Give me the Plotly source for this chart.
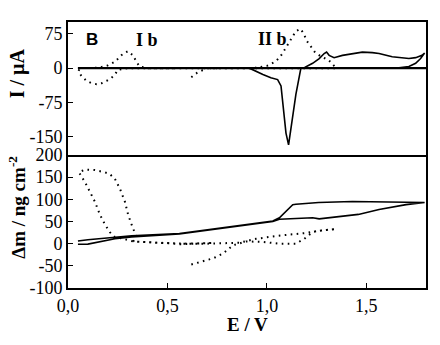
import plotly.graph_objects as go
from plotly.subplots import make_subplots

# ---------------- data ----------------
# Top panel: current (I / uA) vs potential (E / V)
solid_I_E = [0.05, 0.50, 1.00, 1.19, 1.23, 1.263, 1.288, 1.30, 1.313, 1.338, 1.38, 1.43, 1.48, 1.53, 1.564, 1.63, 1.714, 1.748, 1.78, 1.793,
             1.773, 1.748, 1.714, 1.664, 1.40, 1.20, 1.171, 1.146, 1.126, 1.109, 1.096, 1.083, 1.071, 1.054, 1.02, 0.98, 0.946, 0.912, 0.50, 0.05]
solid_I = [0, 0, 0, 1.5, 10.6, 21, 32, 35.4, 28, 23, 28, 32, 35, 34, 32, 25, 21, 23, 28, 33,
           21, 10.6, 3.5, 0.7, 0, 0, 0, -57, -120, -168, -142, -85, -39, -25, -21, -14, -7, 0, 0, 0]

dotA_I_E = [0.75, 0.50, 0.40, 0.30, 0.25, 0.236, 0.219, 0.194, 0.169, 0.144, 0.119, 0.094, 0.069, 0.052,
            0.06, 0.10, 0.15, 0.175, 0.20, 0.236, 0.26, 0.277, 0.302, 0.327, 0.344, 0.36, 0.40, 0.55]
dotA_I = [0, 0, 0, 0, -4, -14, -21, -28, -33, -35, -33, -28, -18, -7,
          0, 0, 1, 3, 6, 14, 24, 32, 37, 28, 14, 3.5, 0, 0]

dotB_I_E = [0.62, 0.65, 0.70, 0.80, 0.93, 1.00, 1.046, 1.075, 1.10, 1.125, 1.146, 1.168, 1.185, 1.20, 1.24, 1.27, 1.31, 1.34, 1.35,
            1.20, 1.00, 0.80, 0.65]
dotB_I = [-20, -10, 0, 0, 0, 5, 15, 30, 49, 68, 81, 86, 76, 60, 36, 26, 18, 4, 0,
          0, 0, 0, 0]

# Bottom panel: mass change (Delta m / ng cm^-2) vs potential
solid_m_E = [0.05, 0.10, 0.236, 0.32, 0.56, 0.72, 0.81, 1.03, 1.063, 1.23, 1.263, 1.46, 1.564, 1.70, 1.793,
             1.60, 1.43, 1.26, 1.18, 1.146, 1.13, 1.096, 1.063, 1.03, 0.81, 0.56, 0.32, 0.236, 0.10, 0.05]
solid_m = [-1.4, -1, 11, 15, 22, 31, 36, 50, 55, 58.5, 56, 66, 77, 88, 93,
           94, 95, 93, 91, 89, 88, 73, 58.5, 51, 38, 23, 18, 15, 9, 6]

dotA_m_E = [0.72, 0.57, 0.486, 0.40, 0.328, 0.344, 0.336, 0.319, 0.302, 0.286, 0.261, 0.236, 0.21, 0.185, 0.135, 0.085, 0.055,
            0.085, 0.11, 0.135, 0.16, 0.185, 0.21, 0.236, 0.277, 0.328, 0.45, 0.60, 0.72]
dotA_m = [1.5, -1.4, 1.5, 3, 5, 15, 26, 44, 66, 95, 124, 146, 157, 161, 166, 167, 161,
          139, 117, 95, 66, 44, 26, 15, 11, 5, 2, 0, 1.5]

dotB_m_E = [0.62, 0.73, 0.78, 0.83, 0.896, 0.98, 1.06, 1.146, 1.188, 1.23, 1.26, 1.30, 1.347,
            1.26, 1.196, 1.146, 1.06, 0.946, 0.86, 0.70, 0.56]
dotB_m = [-47, -33, -22, -3.5, 5, 4, 0, 0, 11, 26, 29, 31, 33,
          29, 24, 22, 18, 11, 2, 0, 0]

x_tickvals = [0.0, 0.5, 1.0, 1.5]
x_ticktext = ["0,0", "0,5", "1,0", "1,5"]
yI_tickvals = [75, 0, -75, -150]
yI_ticktext = ["75", "0", "-75", "-150"]
ym_tickvals = [200, 150, 100, 50, 0, -50, -100]
ym_ticktext = ["200", "150", "100", "50", "0", "-50", "-100"]

X_RANGE = [0, 1.8]
YI_RANGE = [-190, 101]
YM_RANGE = [-100, 200]

# ---------------- figure ----------------
SERIF = "Liberation Serif"
SANS = "Liberation Sans"
W, H = 440, 345
ML, MR, MT, MB = 68, 14, 13, 57
PW, PH = W - ML - MR, H - MT - MB

def px(xp):
    return (xp - ML) / PW

def py(yp):
    return (H - MB - yp) / PH

fig = make_subplots(rows=2, cols=1, shared_xaxes=True, vertical_spacing=0)

solid = dict(color="black", width=1.6)
dotted = dict(color="black", width=2, dash="1.6px,4.4px")

fig.add_trace(go.Scatter(x=solid_I_E, y=solid_I, mode="lines", line=solid), row=1, col=1)
fig.add_trace(go.Scatter(x=dotA_I_E, y=dotA_I, mode="lines", line=dotted), row=1, col=1)
fig.add_trace(go.Scatter(x=dotB_I_E, y=dotB_I, mode="lines", line=dotted), row=1, col=1)
fig.add_trace(go.Scatter(x=solid_m_E, y=solid_m, mode="lines", line=solid), row=2, col=1)
fig.add_trace(go.Scatter(x=dotA_m_E, y=dotA_m, mode="lines", line=dotted), row=2, col=1)
fig.add_trace(go.Scatter(x=dotB_m_E, y=dotB_m, mode="lines", line=dotted), row=2, col=1)

# baseline at zero current
fig.add_shape(type="line", x0=min(solid_I_E), x1=X_RANGE[1], y0=0, y1=0,
              xref="x", yref="y", line=dict(color="black", width=2.4))

axis_common = dict(showline=True, linecolor="black", linewidth=1.8,
                   showgrid=False, zeroline=False, ticks="inside", ticklen=5,
                   tickcolor="black", tickwidth=1.2,
                   tickfont=dict(family=SERIF, size=18, color="black"))

fig.update_xaxes(range=X_RANGE, tickvals=x_tickvals, ticktext=x_ticktext, **axis_common)
fig.update_xaxes(showticklabels=False, ticks="", mirror=True, row=1, col=1)
fig.update_xaxes(mirror=False, row=2, col=1)
fig.update_yaxes(range=YI_RANGE, tickvals=yI_tickvals, ticktext=yI_ticktext, mirror=True,
                 row=1, col=1, **axis_common)
fig.update_yaxes(range=YM_RANGE, tickvals=ym_tickvals, ticktext=ym_ticktext, mirror=True,
                 row=2, col=1, **axis_common)

ann = []
ann.append(dict(text="<b>I / µA</b>", x=px(17), y=py(66), textangle=-90,
                font=dict(family=SERIF, size=20, color="black")))
ann.append(dict(text="<b>Δm / ng cm<sup>-2</sup></b>", x=px(17), y=py(205), textangle=-90,
                font=dict(family=SERIF, size=19, color="black")))
ann.append(dict(text="<b>E / V</b>", x=px(247.5), y=py(326),
                font=dict(family=SERIF, size=19, color="black")))
ann.append(dict(text="<b>B</b>", x=px(92), y=py(31),
                font=dict(family=SANS, size=17, color="black")))
ann.append(dict(text="<b>I b</b>", x=px(147), y=py(32),
                font=dict(family=SERIF, size=18, color="black")))
ann.append(dict(text="<b>II b</b>", x=px(272), y=py(31),
                font=dict(family=SERIF, size=18, color="black")))
for a in ann:
    a.update(xref="paper", yref="paper", showarrow=False, xanchor="center", yanchor="middle")

fig.update_layout(width=W, height=H, margin=dict(l=ML, r=MR, t=MT, b=MB),
                  paper_bgcolor="white", plot_bgcolor="white", showlegend=False,
                  annotations=ann)

fig.write_html("out.html", post_script="document.body.style.margin='0';",
               config={"displayModeBar": False})
